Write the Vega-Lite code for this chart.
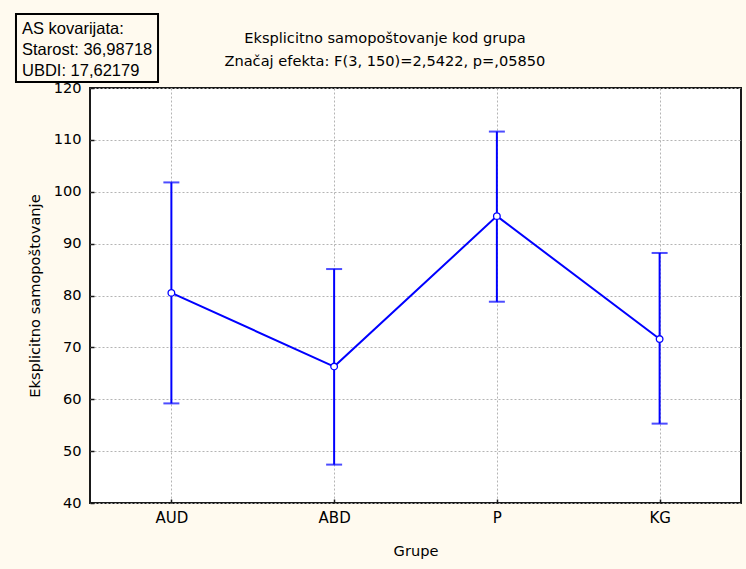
{
  "$schema": "https://vega.github.io/schema/vega-lite/v6.json",
  "width": 651,
  "height": 415,
  "autosize": {"type": "none"},
  "padding": {"left": 90, "top": 88, "right": 5, "bottom": 66},
  "background": "#FFFAEF",
  "config": {
    "view": {"stroke": "#1a1a1a", "strokeWidth": 2, "fill": "#ffffff"},
    "axis": {
      "labelFont": "DejaVu Sans",
      "titleFont": "DejaVu Sans",
      "labelColor": "#000000",
      "titleColor": "#000000",
      "titleFontWeight": "normal",
      "domain": false,
      "gridColor": "#b4b4b4",
      "gridDash": [2, 2],
      "gridWidth": 1,
      "gridOpacity": 1
    }
  },
  "resolve": {"scale": {"x": "independent"}},
  "layer": [
    {
      "data": {
        "values": [
          {"Grupa": "AUD", "mean": 80.5, "lo": 59.2, "hi": 101.8},
          {"Grupa": "ABD", "mean": 66.3, "lo": 47.4, "hi": 85.1},
          {"Grupa": "P", "mean": 95.3, "lo": 78.8, "hi": 111.6},
          {"Grupa": "KG", "mean": 71.6, "lo": 55.3, "hi": 88.2}
        ]
      },
      "encoding": {
        "x": {
          "field": "Grupa",
          "type": "nominal",
          "sort": null,
          "scale": {"type": "point", "padding": 0.5},
          "axis": {
            "title": "Grupe",
            "labelAngle": 0,
            "labelFontSize": 15,
            "titleFontSize": 14.6,
            "ticks": true,
            "tickSize": -4,
            "tickColor": "#1a1a1a",
            "tickWidth": 1.5,
            "labelPadding": 11,
            "titlePadding": 18,
            "grid": true
          }
        }
      },
      "layer": [
        {
          "mark": {"type": "rule", "color": "#0000ff", "strokeWidth": 2},
          "encoding": {
            "y": {
              "field": "lo",
              "type": "quantitative",
              "scale": {"domain": [40, 120], "nice": false, "zero": false},
              "axis": {
                "title": "Eksplicitno samopoštovanje",
                "values": [40, 50, 60, 70, 80, 90, 100, 110, 120],
                "labelFontSize": 14.6,
                "titleFontSize": 14.6,
                "ticks": true,
                "tickSize": -4,
                "tickColor": "#1a1a1a",
                "tickWidth": 1.5,
                "labelPadding": 13,
                "titlePadding": 11,
                "grid": true
              }
            },
            "y2": {"field": "hi"}
          }
        },
        {
          "mark": {"type": "tick", "color": "#0000ff", "thickness": 2, "size": 16, "orient": "horizontal"},
          "encoding": {"y": {"field": "lo", "type": "quantitative"}}
        },
        {
          "mark": {"type": "tick", "color": "#0000ff", "thickness": 2, "size": 16, "orient": "horizontal"},
          "encoding": {"y": {"field": "hi", "type": "quantitative"}}
        },
        {
          "mark": {"type": "line", "color": "#0000ff", "strokeWidth": 2},
          "encoding": {"y": {"field": "mean", "type": "quantitative"}}
        },
        {
          "mark": {"type": "point", "shape": "circle", "filled": true, "fill": "#ffffff", "stroke": "#0000ff", "strokeWidth": 1.3, "size": 44, "opacity": 1},
          "encoding": {"y": {"field": "mean", "type": "quantitative"}}
        }
      ]
    },
    {
      "data": {"values": [{"note": "annotation"}]},
      "layer": [
        {
          "mark": {"type": "rect", "fill": "#FFFAEF", "stroke": "#000000", "strokeWidth": 2},
          "encoding": {
            "x": {"datum": -11.37, "type": "quantitative", "scale": {"domain": [0, 100], "nice": false, "zero": false}, "axis": null},
            "x2": {"datum": 10.45},
            "y": {"datum": 134.25, "type": "quantitative", "scale": {"domain": [40, 120], "nice": false, "zero": false}},
            "y2": {"datum": 121.16}
          }
        },
        {
          "mark": {"type": "text", "font": "Liberation Sans", "fontSize": 16.5, "fontWeight": "normal", "align": "left", "baseline": "alphabetic", "lineHeight": 21, "color": "#000000"},
          "encoding": {
            "x": {"datum": -10.45, "type": "quantitative", "scale": {"domain": [0, 100], "nice": false, "zero": false}, "axis": null},
            "y": {"datum": 130.49, "type": "quantitative", "scale": {"domain": [40, 120], "nice": false, "zero": false}},
            "text": {"value": ["AS kovarijata:", "Starost: 36,98718", "UBDI: 17,62179"]}
          }
        },
        {
          "mark": {"type": "text", "font": "DejaVu Sans", "fontSize": 14.6, "fontWeight": "normal", "align": "center", "baseline": "alphabetic", "lineHeight": 22.4, "color": "#000000"},
          "encoding": {
            "x": {"datum": 45.3, "type": "quantitative", "scale": {"domain": [0, 100], "nice": false, "zero": false}, "axis": null},
            "y": {"datum": 128.6, "type": "quantitative", "scale": {"domain": [40, 120], "nice": false, "zero": false}},
            "text": {"value": ["Eksplicitno samopoštovanje kod grupa", "Značaj efekta: F(3, 150)=2,5422, p=,05850"]}
          }
        }
      ]
    }
  ]
}
